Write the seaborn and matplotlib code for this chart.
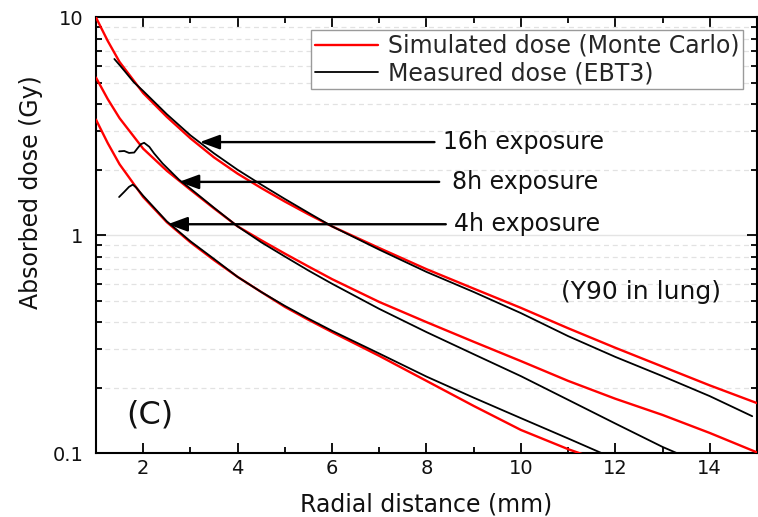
import matplotlib
matplotlib.use("Agg")
import matplotlib.pyplot as plt
import seaborn as sns
import pandas as pd
from matplotlib.lines import Line2D
from matplotlib.ticker import MultipleLocator, LogLocator, FuncFormatter, NullFormatter

# ---------------- data ----------------
x_sim_16h = [1, 1.25, 1.5, 2, 2.5, 3, 3.5, 4, 4.5, 5, 5.5, 6, 7, 8, 9, 10, 11, 12, 13, 14, 15]
sim_16h = [10, 7.8, 6.25, 4.5, 3.5, 2.79, 2.28, 1.92, 1.65, 1.43, 1.25, 1.1, 0.875, 0.70,
           0.57, 0.465, 0.375, 0.305, 0.25, 0.205, 0.17]

x_sim_8h = [1, 1.25, 1.5, 2, 2.5, 3, 3.5, 4, 4.5, 5, 5.5, 6, 7, 8, 9, 10, 11, 12, 13, 14, 15]
sim_8h = [5.3, 4.22, 3.45, 2.5, 1.98, 1.62, 1.33, 1.1, 0.95, 0.825, 0.72, 0.63, 0.495, 0.40,
          0.325, 0.265, 0.215, 0.178, 0.15, 0.124, 0.101]

x_sim_4h = [1, 1.25, 1.5, 2, 2.5, 3, 3.5, 4, 4.5, 5, 5.5, 6, 7, 8, 9, 10, 11, 11.6]
sim_4h = [3.4, 2.65, 2.12, 1.5, 1.15, 0.93, 0.77, 0.645, 0.55, 0.47, 0.41, 0.36, 0.28,
          0.215, 0.165, 0.128, 0.1045, 0.094]

x_meas_16h = [1.39, 1.5, 1.6, 1.8, 2, 2.5, 3, 3.5, 4, 4.5, 5, 5.5, 6, 7, 8, 9, 10, 11, 12,
              13, 14, 14.9]
meas_16h = [6.45, 6.05, 5.7, 5.05, 4.6, 3.6, 2.88, 2.38, 2.0, 1.71, 1.47, 1.27, 1.1, 0.86,
            0.68, 0.55, 0.44, 0.345, 0.277, 0.226, 0.183, 0.148]

x_meas_8h = [1.49, 1.6, 1.7, 1.81, 1.88, 1.95, 2.02, 2.13, 2.23, 2.41, 2.76, 3, 3.5, 4, 4.5,
             5, 5.5, 6, 7, 8, 9, 10, 11, 12, 13, 13.6]
meas_8h = [2.43, 2.44, 2.39, 2.40, 2.51, 2.62, 2.66, 2.55, 2.38, 2.14, 1.80, 1.64, 1.34, 1.10,
           0.93, 0.80, 0.69, 0.60, 0.46, 0.36, 0.285, 0.226, 0.176, 0.137, 0.107, 0.094]

x_meas_4h = [1.49, 1.6, 1.7, 1.78, 1.85, 2, 2.5, 3, 3.5, 4, 4.5, 5, 5.5, 6, 7, 8, 9, 10, 11,
             11.72, 12]
meas_4h = [1.50, 1.585, 1.67, 1.71, 1.66, 1.52, 1.16, 0.94, 0.78, 0.645, 0.55, 0.475, 0.415,
           0.365, 0.287, 0.225, 0.18, 0.145, 0.117, 0.1, 0.094]

legend_labels = ["Simulated dose (Monte Carlo)", "Measured dose (EBT3)"]
exposure_labels = ["16h exposure", "8h exposure", "4h exposure"]
y_ticks = [0.1, 1, 10]

# ---------------- figure ----------------
sns.set_theme(style="ticks")
plt.rcParams["font.family"] = ["DejaVu Sans"]

fig = plt.figure(figsize=(7.58, 5.17), dpi=100)
ax = fig.add_axes([0.1266, 0.1232, 0.872, 0.843])
ax.set_yscale("log")

RED_LW, BLK_LW = 1.7, 1.3
for xs, ys in [(x_sim_16h, sim_16h), (x_sim_8h, sim_8h), (x_sim_4h, sim_4h)]:
    df = pd.DataFrame({"x": xs, "y": ys})
    sns.lineplot(data=df, x="x", y="y", color="#ff0000", lw=RED_LW, ax=ax,
                 estimator=None, sort=False, legend=False, zorder=3)
for xs, ys in [(x_meas_16h, meas_16h), (x_meas_8h, meas_8h), (x_meas_4h, meas_4h)]:
    df = pd.DataFrame({"x": xs, "y": ys})
    sns.lineplot(data=df, x="x", y="y", color="black", lw=BLK_LW, ax=ax,
                 estimator=None, sort=False, legend=False, zorder=4)

ax.set_xlim(1, 15)
ax.set_ylim(0.1, 10)

# ticks
ax.xaxis.set_major_locator(MultipleLocator(2))
ax.xaxis.set_minor_locator(MultipleLocator(1))
ax.yaxis.set_major_locator(LogLocator(base=10))
ax.yaxis.set_minor_locator(LogLocator(base=10, subs=range(2, 10)))
ax.yaxis.set_major_formatter(FuncFormatter(lambda v, p: f"{v:g}"))
ax.yaxis.set_minor_formatter(NullFormatter())
ax.set_yticks(y_ticks)
ax.tick_params(which="both", direction="in", top=True, right=True, color="black",
               width=1.3, labelsize=14, labelcolor="#111111")
ax.tick_params(which="major", length=7)
ax.tick_params(which="minor", length=4)
ax.tick_params(axis="y", which="major", pad=9)
ax.tick_params(axis="x", which="major", pad=4)

for s in ax.spines.values():
    s.set_color("black")
    s.set_linewidth(1.5)

# grid: horizontal only
ax.grid(False)
ax.yaxis.grid(True, which="major", color="#e4e4e4", lw=1.0, ls="-", zorder=0)
ax.yaxis.grid(True, which="minor", color="#e2e2e2", lw=0.9, ls=(0, (4, 3)), zorder=0)
ax.set_axisbelow(True)

ax.set_xlabel("Radial distance (mm)", fontsize=17, color="#111111")
ax.xaxis.set_label_coords(0.50, -0.09)
ax.set_ylabel("Absorbed dose (Gy)", fontsize=17, color="#111111")
ax.yaxis.set_label_coords(-0.08, 0.60)

# legend
handles = [Line2D([], [], color="#ff0000", lw=RED_LW), Line2D([], [], color="black", lw=BLK_LW)]
leg = ax.legend(handles, legend_labels, loc="upper right", bbox_to_anchor=(0.979, 0.971),
                borderaxespad=0, fontsize=17, frameon=True, fancybox=False,
                framealpha=1, edgecolor="#9a9a9a", handlelength=2.7, handletextpad=0.4,
                labelspacing=0.15, borderpad=0.16)
leg.get_frame().set_linewidth(1.0)

# arrows with labels
arrow_style = dict(arrowstyle="-|>,head_length=0.6,head_width=0.22", color="black",
                   lw=1.7, mutation_scale=20, shrinkA=0, shrinkB=0)
arrows = [  # (tip x, line end x, y, text x)
    (3.2, 8.17, 2.68, 8.36),
    (2.76, 8.27, 1.76, 8.54),
    (2.52, 8.41, 1.125, 8.59),
]
for (tipx, endx, yy, tx), lab in zip(arrows, exposure_labels):
    ax.annotate("", xy=(tipx, yy), xytext=(endx, yy), arrowprops=arrow_style, zorder=5)
    ax.text(tx, yy, lab, ha="left", va="center", fontsize=17, color="#111111")

ax.text(2.14, 0.15, "(C)", ha="center", va="center", fontsize=23, color="#111111")
ax.text(12.54, 0.551, "(Y90 in lung)", ha="center", va="center", fontsize=18, color="#111111")

fig.savefig("out.png", dpi=100)
